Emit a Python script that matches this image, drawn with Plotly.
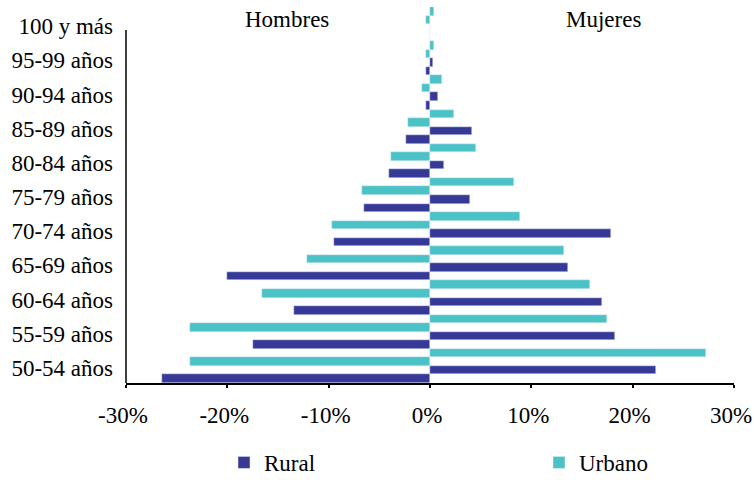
import plotly.graph_objects as go

# ---------------- data ----------------
categories = ["50-54 años", "55-59 años", "60-64 años", "65-69 años", "70-74 años",
              "75-79 años", "80-84 años", "85-89 años", "90-94 años", "95-99 años", "100 y más"]
hombres_rural = [-26.4, -17.5, -13.4, -20.0, -9.5, -6.5, -4.0, -2.4, -0.4, -0.4, 0.0]
hombres_urbano = [-23.7, -23.7, -16.6, -12.1, -9.7, -6.7, -3.8, -2.2, -0.8, -0.4, -0.4]
mujeres_rural = [22.3, 18.3, 16.95, 13.6, 17.9, 3.9, 1.35, 4.1, 0.76, 0.27, 0.0]
mujeres_urbano = [27.2, 17.5, 15.8, 13.2, 8.85, 8.26, 4.5, 2.34, 1.15, 0.37, 0.37]
x_tickvals = [-30, -20, -10, 0, 10, 20, 30]
x_ticktext = ["-30%", "-20%", "-10%", "0%", "10%", "20%", "30%"]
series_names = ["Rural", "Urbano"]
side_titles = ["Hombres", "Mujeres"]

NAVY = "rgb(54,57,150)"
TEAL = "rgb(75,194,198)"
FONT = "Liberation Serif"
FS = 23

fig = go.Figure()
# order from bottom within each group: HR, MR, HU, MU
fig.add_trace(go.Bar(y=categories, x=hombres_rural, orientation="h", marker_color=NAVY,
                     name=series_names[0], legend="legend", showlegend=True))
fig.add_trace(go.Bar(y=categories, x=mujeres_rural, orientation="h", marker_color=NAVY,
                     name=series_names[0], showlegend=False))
fig.add_trace(go.Bar(y=categories, x=hombres_urbano, orientation="h", marker_color=TEAL,
                     name=series_names[1], legend="legend2", showlegend=True))
fig.add_trace(go.Bar(y=categories, x=mujeres_urbano, orientation="h", marker_color=TEAL,
                     name=series_names[1], showlegend=False))

n = len(categories)
half_ticks = [i * 0.5 - 0.5 for i in range(2 * n + 1)]

W, H = 754, 480
L, R, T, B = 126, 20, 7, 97
PW, PH = W - L - R, H - T - B


def px_x(p):
    return (p - L) / PW


def px_y(p):
    return (H - B - p) / PH


legend_common = dict(orientation="h", yanchor="bottom", xanchor="left",
                     font=dict(family=FONT, size=FS), bgcolor="rgba(0,0,0,0)",
                     borderwidth=0)

fig.update_layout(
    width=W, height=H,
    margin=dict(l=L, r=R, t=T, b=B, autoexpand=False),
    paper_bgcolor="white", plot_bgcolor="white",
    barmode="group", bargap=0, bargroupgap=0,
    font=dict(family=FONT, size=FS, color="black"),
    xaxis=dict(range=[-30, 30], tickvals=x_tickvals, ticktext=x_ticktext,
               showline=True, linecolor="black", linewidth=1.5,
               ticks="outside", ticklen=3, tickwidth=1.5, tickcolor="black",
               showgrid=False, zeroline=False, ticklabelstandoff=8,
               ticklabelshift=-3, automargin=False, ticklabeloverflow="allow"),
    xaxis2=dict(range=[-30, 30], overlaying="x", anchor="y", side="bottom",
                tickvals=x_tickvals, ticks="inside", ticklen=4, tickwidth=1.5,
                tickcolor="black", showticklabels=False, showgrid=False,
                zeroline=False, showline=False, automargin=False),
    yaxis=dict(range=[-0.5, n - 0.5], showline=False, ticks="", showgrid=False,
               zeroline=False, ticklabelstandoff=12, ticklabelshift=2,
               automargin=False),
    yaxis2=dict(range=[-0.5, n - 0.5], overlaying="y", anchor="free", position=0.5,
                side="left", showline=True, linecolor="black", linewidth=1.5,
                ticks="outside", ticklen=6, tickwidth=1.5, tickcolor="black",
                tickvals=half_ticks, showticklabels=False, showgrid=False,
                zeroline=False, automargin=False),
    legend=dict(x=px_x(224), y=px_y(484), **legend_common),
    legend2=dict(x=px_x(539), y=px_y(484), **legend_common),
    shapes=[dict(type="line", xref="paper", yref="paper", x0=0, x1=0,
                 y0=0, y1=px_y(30), line=dict(color="black", width=1.5))],
    annotations=[
        dict(text=side_titles[0], x=-14.1, xref="x", y=px_y(20), yref="paper",
             showarrow=False, xanchor="center", yanchor="middle",
             font=dict(family=FONT, size=FS)),
        dict(text=side_titles[1], x=17.1, xref="x", y=px_y(20), yref="paper",
             showarrow=False, xanchor="center", yanchor="middle",
             font=dict(family=FONT, size=FS)),
    ],
)

fig.write_html("out.html", config={"displayModeBar": False},
               post_script="document.body.style.margin='0';")
